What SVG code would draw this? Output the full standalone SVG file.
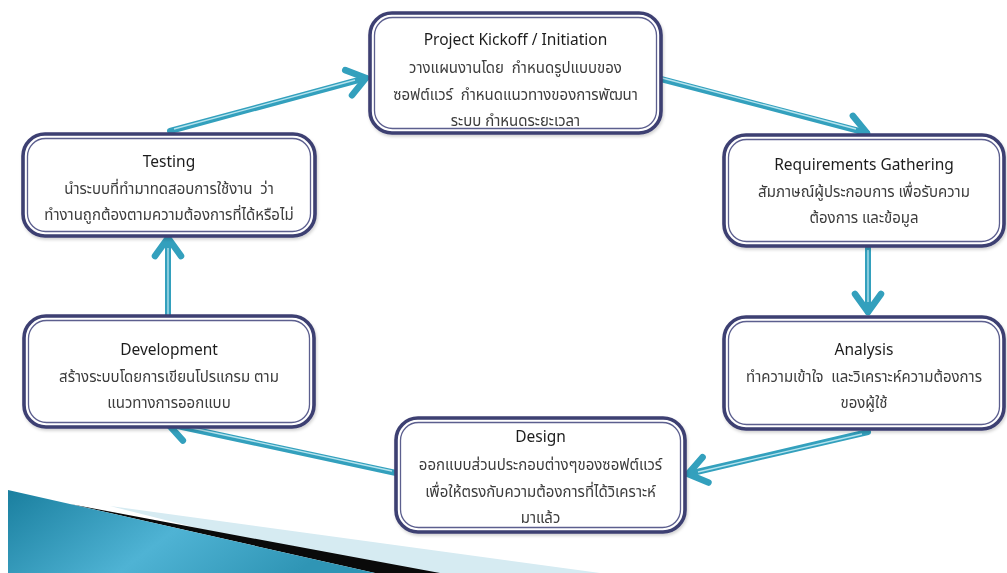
<svg xmlns="http://www.w3.org/2000/svg" width="1007" height="573" viewBox="0 0 1007 573">
<style>
.box{fill:#ffffff;stroke:#3d3f72;stroke-width:3.6}
.inner{fill:none;stroke:#5b5e8e;stroke-width:1.3}
.t{font-family:"Noto Sans","Noto Sans Thai","DejaVu Sans",sans-serif;font-size:15.5px;fill:#1e1e1e;text-anchor:middle}
.b{font-family:"Noto Sans","Noto Sans Thai","DejaVu Sans",sans-serif;font-size:15px;fill:#3c3c3c;text-anchor:middle;white-space:pre}
.shaft{stroke:#33a0bd;stroke-width:6;stroke-linecap:round;fill:none}
.hl{stroke:#b5e3ee;stroke-width:1.3;fill:none}
</style>
<defs>
<marker id="chev" markerUnits="userSpaceOnUse" markerWidth="50" markerHeight="50" viewBox="-25 -25 50 50" refX="0" refY="0" orient="auto" overflow="visible">
<path d="M-18,-13 L0,0 L-18,13" fill="none" stroke="#33a0bd" stroke-width="6.5" stroke-linecap="round" stroke-linejoin="round"/>
</marker>
<linearGradient id="blue" x1="0" y1="0" x2="1" y2="0.3">
<stop offset="0" stop-color="#1a7f9f"/>
<stop offset="0.55" stop-color="#4fb3d4"/>
<stop offset="1" stop-color="#2f95b5"/>
</linearGradient>
<filter id="sh" x="-5%" y="-5%" width="110%" height="115%">
<feDropShadow dx="1" dy="2" stdDeviation="1.5" flood-color="#000" flood-opacity="0.18"/>
</filter>
</defs>

<g id="decoration">
<path d="M110,506 L600,573 L375,573 Z" fill="#d6ebf2"/>
<path d="M70,504 Q260,540 440,573 L375,573 Z" fill="#0a0a0a"/>
<path d="M8,490 L375,573 L8,573 Z" fill="url(#blue)"/>
</g>

<g id="connectors">
<line class="shaft" x1="170" y1="131" x2="366" y2="78" marker-end="url(#chev)"/>
<line class="hl" x1="174" y1="129" x2="355" y2="80"/>
<line class="shaft" x1="657" y1="78" x2="867" y2="133" marker-end="url(#chev)"/>
<line class="hl" x1="662" y1="78" x2="856" y2="129"/>
<line class="shaft" x1="868" y1="248" x2="868" y2="312" marker-end="url(#chev)"/>
<line class="hl" x1="868" y1="250" x2="868" y2="302"/>
<line class="shaft" x1="868" y1="432" x2="688" y2="474" marker-end="url(#chev)"/>
<line class="hl" x1="862" y1="434" x2="698" y2="472"/>
<line class="shaft" x1="396" y1="473" x2="168" y2="424" marker-end="url(#chev)"/>
<line class="hl" x1="392" y1="471" x2="178" y2="425"/>
<line class="shaft" x1="168" y1="318" x2="168" y2="238" marker-end="url(#chev)"/>
<line class="hl" x1="168" y1="316" x2="168" y2="248"/>
</g>

<g id="kickoff" filter="url(#sh)">
<rect class="box" x="370" y="13" width="291" height="120" rx="22"/>
<rect class="inner" x="374.5" y="17.5" width="282" height="111" rx="18"/>
<text class="t" x="515.5" y="45">Project Kickoff / Initiation</text>
<text class="b" x="515.5" y="73">วางแผนงานโดย  กำหนดรูปแบบของ</text>
<text class="b" x="515.5" y="100">ซอฟต์แวร์  กำหนดแนวทางของการพัฒนา</text>
<text class="b" x="515.5" y="126">ระบบ กำหนดระยะเวลา</text>
</g>

<g id="testing" filter="url(#sh)">
<rect class="box" x="23" y="134" width="292" height="102" rx="22"/>
<rect class="inner" x="27.5" y="138.5" width="283" height="93" rx="18"/>
<text class="t" x="169" y="167">Testing</text>
<text class="b" x="169" y="194">นำระบบที่ทำมาทดสอบการใช้งาน  ว่า</text>
<text class="b" x="169" y="220">ทำงานถูกต้องตามความต้องการที่ได้หรือไม่</text>
</g>

<g id="requirements" filter="url(#sh)">
<rect class="box" x="724" y="135" width="280" height="111" rx="22"/>
<rect class="inner" x="728.5" y="139.5" width="271" height="102" rx="18"/>
<text class="t" x="864" y="170">Requirements Gathering</text>
<text class="b" x="864" y="197">สัมภาษณ์ผู้ประกอบการ เพื่อรับความ</text>
<text class="b" x="864" y="223">ต้องการ และข้อมูล</text>
</g>

<g id="analysis" filter="url(#sh)">
<rect class="box" x="724" y="317" width="280" height="112" rx="22"/>
<rect class="inner" x="728.5" y="321.5" width="271" height="103" rx="18"/>
<text class="t" x="864" y="355">Analysis</text>
<text class="b" x="864" y="382">ทำความเข้าใจ  และวิเคราะห์ความต้องการ</text>
<text class="b" x="864" y="408">ของผู้ใช้</text>
</g>

<g id="development" filter="url(#sh)">
<rect class="box" x="24" y="316" width="290" height="111" rx="22"/>
<rect class="inner" x="28.5" y="320.5" width="281" height="102" rx="18"/>
<text class="t" x="169" y="355">Development</text>
<text class="b" x="169" y="382">สร้างระบบโดยการเขียนโปรแกรม ตาม</text>
<text class="b" x="169" y="408">แนวทางการออกแบบ</text>
</g>

<g id="design" filter="url(#sh)">
<rect class="box" x="396" y="418" width="289" height="114" rx="22"/>
<rect class="inner" x="400.5" y="422.5" width="280" height="105" rx="18"/>
<text class="t" x="540.5" y="442">Design</text>
<text class="b" x="540.5" y="470">ออกแบบส่วนประกอบต่างๆของซอฟต์แวร์</text>
<text class="b" x="540.5" y="497">เพื่อให้ตรงกับความต้องการที่ได้วิเคราะห์</text>
<text class="b" x="540.5" y="523">มาแล้ว</text>
</g>
</svg>
